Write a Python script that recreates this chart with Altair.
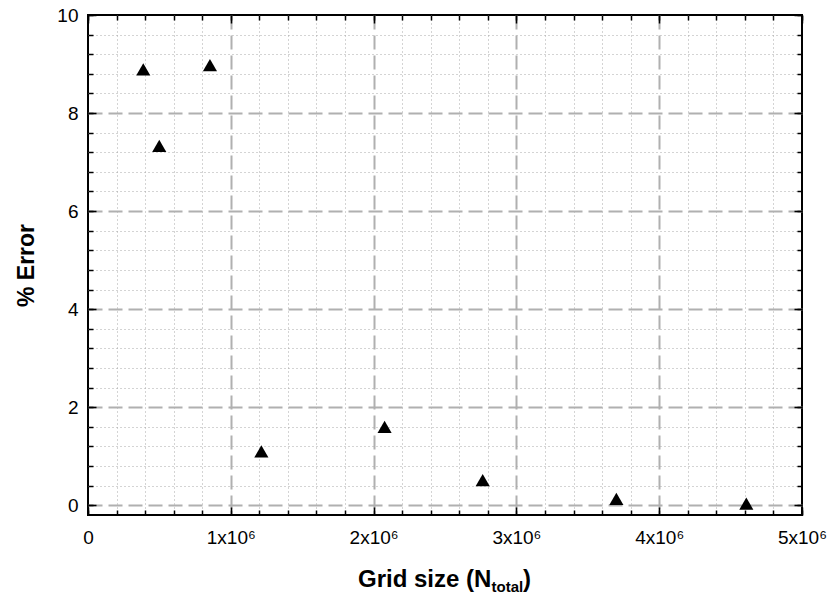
import altair as alt
import pandas as pd

# ---- data ----
grid_size = [0.387e6, 0.499e6, 0.854e6, 1.214e6, 2.077e6, 2.764e6, 3.70e6, 4.61e6]
pct_error = [8.89, 7.33, 8.975, 1.10, 1.60, 0.51, 0.13, 0.03]

x_major = [0, 1e6, 2e6, 3e6, 4e6, 5e6]
y_major = [0, 2, 4, 6, 8, 10]
x_minor = [k * 2e5 for k in range(0, 26)]
y_minor = [round(k * 0.4, 1) for k in range(0, 26)]

x_major_grid = [v for v in x_major if 0 < v < 5e6]
y_major_grid = [v for v in y_major if v < 10]
x_minor_grid = [v for v in x_minor if 0 < v < 5e6 and v not in x_major]
y_minor_grid = [v for v in y_minor if 0 < v < 10 and v not in y_major]

df = pd.DataFrame({"x": grid_size, "y": pct_error})

W, H = 714, 500
XDOM = [0, 5e6]
YDOM = [-0.2, 10]
FONT = "Liberation Sans"

xs = alt.Scale(domain=XDOM, nice=False, zero=False)
ys = alt.Scale(domain=YDOM, nice=False, zero=False)

base = alt.Chart(df)


def axis_layer(xaxis, yaxis):
    return base.mark_point(opacity=0).encode(
        x=alt.X("x:Q", scale=xs, axis=xaxis),
        y=alt.Y("y:Q", scale=ys, axis=yaxis),
    )


no = dict(labels=False, domain=False, title=None)

minor_grid = axis_layer(
    alt.Axis(orient="bottom", values=x_minor_grid, grid=True, ticks=False,
             gridColor="#a8a8a8", gridWidth=1, gridDash=[1, 3], **no),
    alt.Axis(orient="left", values=y_minor_grid, grid=True, ticks=False,
             gridColor="#a8a8a8", gridWidth=1, gridDash=[1, 3], **no),
)

major_grid = axis_layer(
    alt.Axis(orient="bottom", values=x_major_grid, grid=True, ticks=False,
             gridColor="#b0b0b0", gridWidth=2, gridDash=[14, 6],
             labels=False, domain=False, title=None),
    alt.Axis(orient="left", values=y_major_grid, grid=True, ticks=False,
             gridColor="#b0b0b0", gridWidth=2, gridDash=[14, 6],
             labels=False, domain=False, title=None),
)

labels = axis_layer(
    alt.Axis(orient="bottom", values=x_major, grid=False, ticks=False, domain=False,
             labelExpr="datum.value == 0 ? '0' : format(datum.value / 1000000, 'd') + 'x10\u2076'",
             labelFont=FONT, labelFontSize=19, labelColor="black", labelPadding=13,
             labelFlush=False, labelOverlap=False, title=None),
    alt.Axis(orient="left", values=y_major, grid=False, ticks=False, domain=False,
             format="d", labelFont=FONT, labelFontSize=19, labelColor="black",
             labelPadding=10, labelFlush=False, labelOverlap=False,
             title="% Error", titleFont=FONT, titleFontSize=23, titleFontWeight="bold",
             titleColor="black", titleAngle=270, titleX=-55, titleY=H / 2,
             titleAlign="center", titleBaseline="alphabetic"),
)


def tick_layer(xorient, yorient, xvals, yvals, size):
    return axis_layer(
        alt.Axis(orient=xorient, values=xvals, grid=False, ticks=True, tickSize=size,
                 offset=-size, tickColor="black", tickWidth=1.5, **no),
        alt.Axis(orient=yorient, values=yvals, grid=False, ticks=True, tickSize=size,
                 offset=-size, tickColor="black", tickWidth=1.5, **no),
    )


ticks_bl_minor = tick_layer("bottom", "left", x_minor, y_minor, 5)
ticks_bl_major = tick_layer("bottom", "left", x_major, y_major, 8)
ticks_tr_minor = tick_layer("top", "right", x_minor, y_minor, 5)
ticks_tr_major = tick_layer("top", "right", x_major, y_major, 8)

points = base.mark_point(shape="triangle-up", filled=True, color="black",
                         opacity=1, size=200).encode(
    x=alt.X("x:Q", scale=xs, axis=None),
    y=alt.Y("y:Q", scale=ys, axis=None),
)

one = alt.Chart(pd.DataFrame({"a": [0]}))
t_main = one.mark_text(font=FONT, fontSize=24, fontWeight="bold", align="left",
                       baseline="alphabetic", color="black").encode(
    x=alt.value(270), y=alt.value(572), text=alt.value("Grid size (N"))
t_sub = one.mark_text(font=FONT, fontSize=15, fontWeight="bold", align="left",
                      baseline="alphabetic", color="black").encode(
    x=alt.value(403.5), y=alt.value(577), text=alt.value("total"))
t_close = one.mark_text(font=FONT, fontSize=24, fontWeight="bold", align="left",
                        baseline="alphabetic", color="black").encode(
    x=alt.value(435), y=alt.value(572), text=alt.value(")"))

chart = alt.layer(
    minor_grid, major_grid, labels,
    ticks_bl_minor, ticks_bl_major, ticks_tr_minor, ticks_tr_major,
    points, t_main, t_sub, t_close,
).resolve_axis(x="independent", y="independent").properties(
    width=W, height=H,
    padding={"left": 88, "top": 15, "right": 27, "bottom": 81},
    autosize="none",
    background="white",
).configure_view(stroke="black", strokeWidth=2)

chart.save("out.html", embed_options={"renderer": "svg", "actions": False})
